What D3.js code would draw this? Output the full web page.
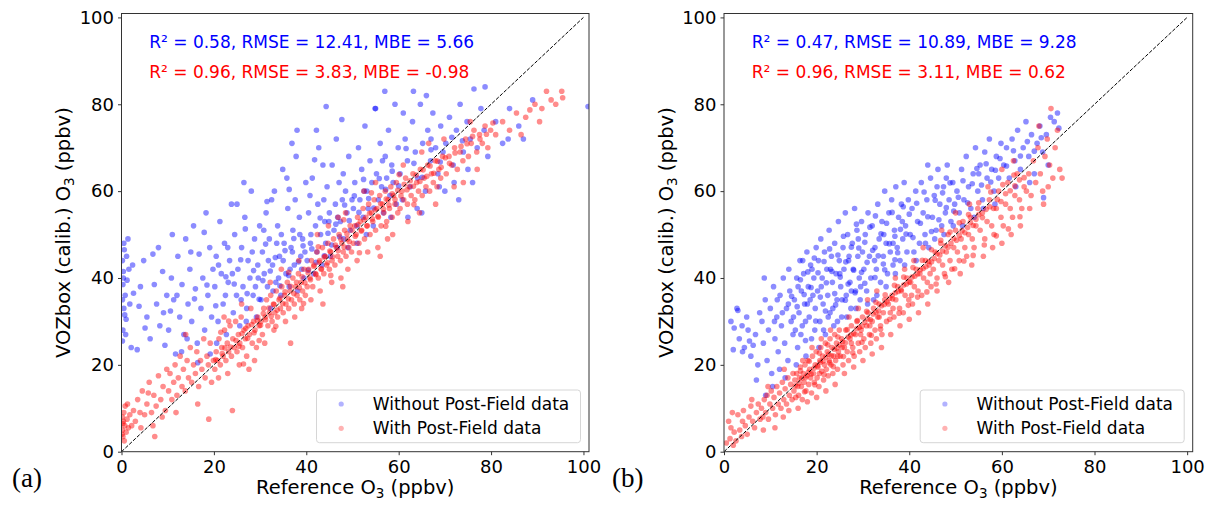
<!DOCTYPE html>
<html>
<head>
<meta charset="utf-8">
<script src="https://cdn.jsdelivr.net/npm/d3@7"></script>
<style>
  body { margin: 0; background: #fff; }
  text { font-family: "DejaVu Sans", sans-serif; }
</style>
</head>
<body>
<script>
// canvas and axes limits
var width = 1211;
var height = 512;
var xMax = 101.2;
var yMax = 100.9;

var tickValues = [0, 20, 40, 60, 80, 100];
var seriesNames = ["Without Post-Field data", "With Post-Field data"];
var seriesColors = ["#0000ff", "#ff0000"];
var statsA = ["R\u00b2 = 0.58, RMSE = 12.41, MBE = 5.66", "R\u00b2 = 0.96, RMSE = 3.83, MBE = -0.98"];
var statsB = ["R\u00b2 = 0.47, RMSE = 10.89, MBE = 9.28", "R\u00b2 = 0.96, RMSE = 3.11, MBE = 0.62"];
var panelLabels = ["(a)", "(b)"];

// (a) without post-field data: [reference, vozbox]
var blueA = [
[0.2,44],[0.4,41.5],[0.3,38.5],[0.8,36],[0.5,33],[1.0,30.5],[0.3,28],[0.6,46.5],[1.4,49],[1.2,39.5],[0.2,25.5],[1.8,34],[0.7,31.5],[2.4,43],[0.4,40],[1.1,45],[2.6,36.5],[0.9,27],[1.6,42],[0.2,35],[2.1,24],[0.5,48],
[3.4,23.5],[4.1,38],[4.8,44],[5.5,31],[6.2,26],[7.1,38.5],[7.6,34],[8.3,29],[8.9,41.5],[9.4,24.5],[9.8,36],[6.8,45.5],[5.1,28.5],[3.8,33.5],[8.0,47],[9.1,32],
[10.2,28],[10.8,40],[11.3,35],[11.7,22.5],[12.2,45],[12.6,31],[13.1,38.5],[13.5,27],[13.9,49],[14.4,34],[14.8,42],[15.2,30],[15.6,52],[16.0,37.5],[16.4,25],[16.8,45.5],[17.2,33],[17.6,40],[18.0,28],[18.3,55],[18.7,36],[19.1,47],[19.5,31],[19.8,42],[11.0,50],[15.0,46],[17.9,50.5],[13.0,23],[16.5,20.5],[19.2,22.5],[12.0,36],[14.2,26],
[20.2,38],[20.5,45],[20.9,30],[21.3,53],[21.6,41],[22.0,34],[22.3,48],[22.7,27],[23.1,39],[23.4,44],[23.8,57],[24.2,32],[24.5,50],[24.9,36],[25.2,42],[25.6,29],[26.0,47],[26.3,38],[26.7,54],[27.1,33],[27.4,44],[27.8,40],[28.1,60],[28.5,36],[28.8,49],[29.2,31],[29.5,43],[29.9,52],[20.6,25],[22.5,36],[24.0,41],[25.9,35],[27.0,30],[28.3,46],[29.0,38],[26.5,62],[23.0,47],[21.0,43],[25.0,57],[29.6,40],
[30.2,35],[30.5,46],[30.9,41],[31.3,55],[31.6,38],[32.0,49],[32.3,33],[32.7,43],[33.1,60],[33.4,39],[33.8,52],[34.2,45],[34.5,36],[34.9,65],[35.2,48],[35.6,41],[36.0,56],[36.3,38],[36.7,47],[37.1,51],[37.4,43],[37.8,68],[38.1,37],[38.5,54],[38.8,45],[39.2,49],[39.5,40],[39.9,62],[30.8,51],[32.5,58],[33.6,48],[35.0,44],[36.5,42],[37.6,58],[38.6,50],[39.0,42],[31.8,44],[34.0,40],[35.8,63],[36.9,71],[39.7,46],[32.8,37],[37.0,46],[34.6,50],[38.0,74],
[40.2,44],[40.5,55],[40.9,48],[41.3,63],[41.6,41],[42.0,52],[42.3,46],[42.7,70],[43.1,50],[43.4,43],[43.8,58],[44.2,48],[44.3,79.5],[44.5,61],[44.9,53],[45.2,45],[45.6,66],[46.0,51],[46.3,57],[46.7,47],[47.1,62],[47.4,53],[47.7,76.5],[48.1,49],[48.5,60],[48.8,55],[49.2,68],[49.5,51],[49.9,58],[40.8,59],[42.5,57],[43.6,66],[45.0,55],[46.5,72],[48.0,64],[41.0,50],[44.0,53],[46.8,54],[49.0,47],[42.2,74],[47.8,58],
[50.2,56],[50.5,62],[50.9,52],[51.3,70],[51.6,58],[52.0,65],[52.3,54],[52.7,75],[53.1,60],[53.4,56],[53.8,67],[54.2,62],[54.5,52],[54.9,79],[55.2,64],[55.6,58],[56.0,71],[56.3,61],[56.7,55],[57.1,68],[57.4,63],[57.8,74],[58.1,59],[58.5,66],[58.8,62],[59.2,80],[59.5,57],[59.9,70],[51.0,48],[53.0,50],[55.0,79],[57.0,83],[52.5,60],[56.5,67],[58.3,54],
[60.3,64],[60.8,58],[61.4,72],[61.9,67],[62.5,61],[63.0,76],[63.2,83],[63.6,69],[64.1,63],[64.7,80],[65.2,71],[65.8,60],[66.3,74],[66.9,67],[67.4,78],[68.0,70],[68.5,64],[69.1,75],[69.6,69],[62.0,54],[64.0,56],[66.0,82],[68.8,61],[61.0,78],[67.0,72],[65.0,55],
[70.2,71],[71.0,77],[71.8,66],[72.5,74],[73.3,80],[74.0,69],[74.8,76],[75.5,72],[76.3,83.5],[77.0,70],[77.8,79],[78.5,74],[78.7,84],[79.3,68],[72.0,62],[75.0,65],[76.0,62],[70.0,60],[73.0,58],
[81.0,76],[82.5,71],[83.7,72],[84.0,79],[86.0,75],[87.0,72],[89.0,81],[101,79.5],
[22.6,40.3],[24.4,38.6],[25.8,44.2],[27.2,36.4],[28.6,41.7],[29.8,35.1],[30.6,39.4],[31.2,47.8],[32.2,41.6],[33.3,44.7],[34.3,38.2],[35.4,46.3],[36.2,40.6],[37.3,49.1],[38.3,43.7],[39.3,47.4],[40.4,41.8],[41.2,46.7],[42.1,43.6],[43.0,53.8],[43.9,45.1],[44.7,50.3],[45.5,47.6],[46.4,52.4],[47.2,49.5],[48.3,56.8],[49.3,53.2],[50.4,58.9],[51.4,55.1],[52.4,62.7],[53.5,58.3],[54.6,56.1],[55.8,62.9],[57.2,60.4],[58.6,64.6],[60.0,61.2],[61.6,69.8],[63.3,66.4],[65.1,63.2],[67.0,69.5],[69.0,66.7],[71.5,72.4],[73.8,71.6],[26.8,51.3],[31.5,57.6],[36.3,60.4],[41.8,67.2],[18.5,38.4],[20.4,33.6],[15.8,35.2],[10.6,32.4]
];

// (a) with post-field data
var redA = [
[0.2,5],[0.4,7],[0.3,3.5],[0.7,6],[0.5,9],[1.0,4.5],[0.2,8],[1.2,7.5],[0.8,10.5],[1.5,5.5],[0.3,6.5],[1.8,8.5],[0.6,2.5],[2.2,6],[1.3,11],[0.1,4],[2.6,9.5],
[3.0,7],[3.5,12],[4.0,9],[4.5,14],[5.0,8.5],[5.5,11],[6.0,16],[6.5,9],[7.0,13],[7.5,10.5],[8.0,17.5],[8.5,12],[9.0,15],[9.5,9.5],[4.2,5.5],[6.8,6],[9.8,19],[5.8,13.5],[8.8,8],[7.2,3.5],
[10.2,14],[10.5,18],[10.9,12],[11.3,16],[11.6,20],[12.0,13],[12.3,17],[12.7,22],[13.1,15],[13.4,19],[13.8,14],[14.2,21],[14.5,17],[14.9,24],[15.2,16],[15.6,20],[16.0,18],[16.3,23],[16.7,15],[17.1,21],[17.4,19],[17.8,26],[18.1,17],[18.5,22],[18.8,20],[19.2,25],[19.5,16],[19.9,21],[16.5,11],[18.9,7.5],[13.9,27],[11.8,9],
[20.2,19],[20.5,23],[20.8,21],[21.1,26],[21.4,20],[21.7,24],[22.0,22],[22.3,28],[22.6,21],[22.9,25],[23.2,23],[23.5,29],[23.8,22],[24.1,26],[24.4,24],[24.7,30],[25.0,23],[25.3,27],[25.6,25],[25.9,31],[26.2,24],[26.5,28],[26.8,26],[27.1,22],[27.4,29],[27.7,27],[28.0,33],[28.3,25],[28.6,30],[28.9,28],[29.2,24],[29.5,31],[29.8,29],[21.0,17],[23.0,18],[25.5,20],[27.6,19],[22.2,31],[24.0,9.5],[26.0,34],[28.8,21],
[30.2,30],[30.5,27],[30.8,33],[31.1,31],[31.4,35],[31.7,29],[32.0,32],[32.3,36],[32.6,30],[32.9,34],[33.2,32],[33.5,37],[33.8,31],[34.1,35],[34.4,33],[34.7,38],[35.0,32],[35.3,36],[35.6,34],[35.9,39],[36.2,33],[36.5,37],[36.8,35],[37.1,40],[37.4,34],[37.7,38],[38.0,36],[38.3,41],[38.6,35],[38.9,39],[39.2,37],[39.5,42],[39.8,36],[31.0,25],[33.0,28],[35.5,30],[37.5,31],[39.0,33],[32.2,39],[34.6,42],[36.6,25],[38.4,44],
[40.2,38],[40.5,42],[40.8,40],[41.1,44],[41.4,38],[41.7,43],[42.0,41],[42.3,46],[42.6,40],[42.9,44],[43.2,42],[43.5,47],[43.8,41],[44.1,45],[44.4,43],[44.7,48],[45.0,42],[45.3,46],[45.6,44],[45.9,49],[46.2,43],[46.5,47],[46.8,45],[47.1,50],[47.4,44],[47.7,48],[48.0,46],[48.3,51],[48.6,45],[48.9,49],[49.2,47],[49.5,52],[49.8,46],[41.0,35],[43.0,37],[45.5,39],[47.5,40],[49.0,42],[42.4,50],[44.8,52],[46.9,54],[48.5,55],[43.6,34],[47.9,38],
[50.2,48],[50.5,52],[50.8,50],[51.1,54],[51.4,48],[51.7,53],[52.0,51],[52.3,56],[52.6,49],[52.9,54],[53.2,52],[53.5,57],[53.8,50],[54.1,55],[54.4,53],[54.7,58],[55.0,51],[55.3,56],[55.6,54],[55.9,59],[56.2,52],[56.5,57],[56.8,55],[57.1,60],[57.4,53],[57.7,58],[58.0,56],[58.3,61],[58.6,54],[58.9,59],[59.2,57],[59.5,62],[59.8,55],[51.0,44],[53.3,46],[55.5,47],[57.6,49],[52.5,60],[55.0,62],[56.0,45],[58.7,50],
[60.3,56],[60.7,60],[61.1,58],[61.5,63],[61.9,57],[62.3,61],[62.7,59],[63.1,64],[63.5,58],[63.9,62],[64.3,60],[64.7,65],[65.1,59],[65.5,63],[65.9,61],[66.3,66],[66.7,60],[67.1,64],[67.5,62],[67.9,67],[68.3,61],[68.7,65],[69.1,63],[69.5,68],[62.0,53],[64.5,55],[66.5,71],[68.0,57],[61.0,66],[65.0,69],[69.8,72],
[70.3,64],[70.9,68],[71.5,66],[72.1,70],[72.7,65],[73.3,69],[73.9,67],[74.5,72],[75.1,68],[75.7,71],[76.3,74],[76.9,69],[77.5,73],[78.1,71],[78.7,75],[79.3,70],[79.9,74],[72.0,61],[75.5,76],[77.0,65],[74.0,62],[80.4,75.7],
[81,73],[82.5,76],[84,74],[85.5,78],[86.5,73],[87.5,77],[88.4,78.7],[89.5,80],[90.5,76],[92,83],[93,81],[94,80],[95.3,83],[95.5,81.5],[91,79],
[20.4,21.2],[21.8,22.6],[22.4,23.9],[23.6,24.1],[24.8,25.6],[25.4,24.3],[26.1,27.2],[26.9,28.4],[27.3,26.1],[28.2,29.3],[28.7,27.4],[29.4,30.2],[30.1,29.1],[30.7,31.8],[31.2,30.4],[31.9,33.1],[32.4,31.2],[33.0,33.9],[33.7,32.6],[34.3,35.4],[34.9,34.1],[35.4,36.8],[36.1,35.2],[36.6,38.1],[37.3,36.4],[37.9,39.0],[38.5,37.8],[39.1,40.3],[39.7,38.9],[40.4,41.2],[40.9,39.6],[41.6,42.7],[42.1,40.8],[42.8,43.6],[43.3,42.1],[43.9,44.8],[44.6,43.5],[45.1,46.2],[45.7,44.9],[46.3,47.6],[46.9,46.3],[47.5,48.9],[48.2,47.1],[48.8,50.2],[49.3,48.4],[49.9,51.0],[50.6,49.6],[51.2,52.3],[51.9,50.8],[52.5,53.4],[53.1,52.0],[53.7,54.9],[54.3,53.6],[54.9,55.7],[55.5,54.2],[56.1,57.1],[56.7,55.9],[57.3,58.2],[57.9,56.8],[58.6,59.4],[59.2,58.1],[59.8,60.2],[60.5,58.9],[61.2,61.6],[61.8,60.3],[62.5,62.4],[63.2,61.1],[63.8,63.7],[64.6,62.2],[65.3,64.9],[66.1,63.4],[66.8,65.8],[67.6,64.1],[68.4,66.9],[69.2,65.5],[70.1,67.7],[71.0,66.4],[72.2,68.8],[73.5,70.3],[74.8,70.9],[76.0,72.6],[77.6,72.0],[79.0,73.1],
[21.5,27.5],[23.2,30.1],[26.4,20.2],[29.8,25.6],[33.4,28.9],[36.2,41.3],[39.4,34.1],[42.6,47.2],[45.3,40.6],[48.1,53.4],[51.5,45.8],[54.1,59.6],[57.2,51.9],[60.1,63.8],[63.3,56.9]
];

// (b) without post-field data
var blueB = [
[1.5,30],[2.2,28.5],[2.8,33],[3.3,26],[3.9,29],[4.4,24],[4.9,31],[5.2,28],[5.8,22],[6.3,24.5],[6.8,27],[7.3,20],[7.7,32],[2.0,23.5],[4.0,23],[3.0,32.5],[5.5,25.5],[7.0,16.5],
[8.2,30],[8.5,25],[8.9,35],[9.3,21],[9.6,28],[10.0,33],[10.3,18],[10.7,38],[11.0,26],[11.4,31],[11.7,23],[12.1,36],[12.4,29],[12.8,40],[13.1,25],[13.5,33],[13.8,21],[14.2,37],[14.5,30],[14.9,27],[9.0,13],[10.5,15],[12.0,19],[13.2,17],[14.0,42],[11.5,35],[8.7,40],[13.9,34],[10.9,30],[12.6,32],
[15.2,35],[15.4,28],[15.7,40],[15.9,24],[16.2,32],[16.4,44],[16.7,37],[16.9,29],[17.2,41],[17.4,34],[17.7,22],[17.9,46],[18.2,38],[18.4,31],[18.7,43],[18.9,26],[19.2,36],[19.4,40],[19.7,33],[19.9,47],[15.6,20],[16.6,27],[17.6,30],[18.6,35],[19.6,28],[16.0,38],[17.0,44],[18.0,34],[19.0,42],[15.0,31],
[20.2,37],[20.4,44],[20.7,30],[20.9,49],[21.2,40],[21.4,34],[21.7,46],[21.9,27],[22.2,42],[22.4,36],[22.7,51],[22.9,32],[23.2,45],[23.4,39],[23.7,29],[23.9,48],[24.2,41],[24.4,35],[24.7,53],[24.9,44],[25.2,38],[25.4,31],[25.7,47],[25.9,42],[26.2,55],[26.4,36],[26.7,50],[26.9,44],[27.2,39],[27.4,33],[27.7,48],[27.9,42],[28.2,56],[28.4,37],[28.7,51],[28.9,45],[29.2,40],[29.4,35],[29.7,53],[29.9,46],[20.5,24],[21.5,28],[22.5,31],[23.5,33],[24.5,30],[25.5,35],[26.5,31],[27.5,37],[28.5,33],[29.5,38],[21.0,38],[23.0,42],[25.0,41],[27.0,45],[29.0,49],
[30.2,42],[30.5,50],[30.8,37],[31.1,55],[31.4,45],[31.7,40],[32.0,52],[32.3,35],[32.6,47],[32.9,42],[33.2,57],[33.5,49],[33.8,39],[34.1,53],[34.4,45],[34.7,60],[35.0,48],[35.3,41],[35.6,55],[35.9,46],[36.2,58],[36.5,43],[36.8,51],[37.1,61],[37.4,47],[37.7,54],[38.0,44],[38.3,57],[38.6,49],[38.9,62],[39.2,52],[39.5,46],[39.8,58],[31.0,34],[33.0,36],[35.0,38],[37.0,41],[39.0,43],[32.5,44],[34.5,50],[36.5,48],[38.5,53],
[40.2,50],[40.6,56],[41.0,46],[41.4,60],[41.8,53],[42.2,48],[42.6,62],[43.0,55],[43.4,50],[43.8,58],[44.2,47],[44.6,63],[45.0,54],[45.4,59],[45.8,51],[46.2,65],[46.6,57],[47.0,52],[47.4,61],[47.8,55],[48.2,66],[48.6,58],[49.0,53],[49.4,62],[49.8,57],[41.5,44],[43.5,48],[45.5,49],[47.5,50],[49.5,52],[44.0,66],[46.0,61],[48.0,63],
[50.3,60],[50.8,55],[51.3,65],[51.8,58],[52.3,68],[52.8,61],[53.3,56],[53.8,64],[54.3,70],[54.8,60],[55.3,66],[55.8,58],[56.3,69],[56.8,63],[57.3,72],[57.8,65],[58.3,60],[58.8,68],[59.3,63],[59.8,71],[51.5,52],[54.0,54],[56.0,56],[58.5,57],[55.0,64],
[60.4,66],[61.0,70],[61.6,63],[62.2,72],[62.8,67],[63.4,74],[64.0,65],[64.6,70],[65.2,76],[65.8,68],[66.4,73],[67.0,64],[67.6,71],[68.2,75],[68.8,69],[69.6,73],[70.5,77],[71.3,76],[72.0,78],[72.3,74.5],[66.0,62],[70.0,66],[63.0,61],[69.0,58.5],
[14.6,35.8],[15.8,33.4],[16.5,39.6],[17.3,36.2],[18.1,41.4],[18.8,37.8],[19.5,44.6],[20.3,41.2],[20.8,35.6],[21.6,43.8],[22.1,38.9],[22.8,46.7],[23.3,41.5],[23.9,36.4],[24.6,45.3],[25.1,40.2],[25.8,49.6],[26.3,43.7],[26.8,38.6],[27.5,47.1],[28.0,41.8],[28.6,52.4],[29.1,46.9],[29.7,41.3],[30.4,48.2],[30.9,43.6],[31.5,51.7],[32.1,46.4],[32.7,54.3],[33.3,45.1],[33.9,50.2],[34.4,43.2],[35.1,52.6],[35.7,47.9],[36.3,55.1],[36.9,49.6],[37.5,45.8],[38.1,51.2],[38.7,56.4],[39.3,50.1],[40.0,54.7],[40.8,49.3],[41.6,57.2],[42.4,52.6],[43.2,59.8],[44.0,54.1],[44.8,50.7],[45.6,57.9],[46.4,53.4],[47.2,59.6],[48.0,56.2],[48.8,61.9],[49.6,55.4],[50.6,58.6],[51.6,62.4],[52.6,57.3],[53.6,61.7],[54.6,65.2],[55.6,61.4],[56.6,66.3],[57.6,62.1],[58.6,64.8],[59.6,67.5],[61.0,65.8],[62.5,69.3],[64.0,68.1],[65.5,71.4],[67.0,69.2],[68.5,72.3],[17.6,25.6],[19.8,30.1],[21.9,32.4],[24.1,33.8],[26.2,34.9],[28.3,36.6],[30.4,38.8],[32.6,40.1],[34.7,41.9],[36.9,44.2]
];

// (b) with post-field data
var redB = [
[0.5,2],[1.0,7],[1.3,3],[1.8,9],[2.2,4.5],[2.6,2.5],[3.0,8.5],[3.4,5],[3.8,3.5],[4.2,9.5],[4.6,6],[5.0,4],[5.4,8],[5.8,10.5],[6.2,7],[6.6,5.5],[7.0,9],[7.4,11],[7.8,7.5],[1.5,5.5],[4.0,7],[6.0,12],[2.0,1.5],
[8.1,10],[8.4,8],[8.7,12],[9.0,9],[9.3,13],[9.6,7.5],[9.9,11],[10.2,14],[10.5,10],[10.8,12.5],[11.1,8.5],[11.4,15],[11.7,11],[12.0,13.5],[12.3,10],[12.6,16],[12.9,12],[13.2,14.5],[13.5,11],[13.8,17],[14.1,13],[14.4,15.5],[14.7,12],[14.9,18],[9.5,15],[11.0,5.5],[12.8,8],[14.0,9.5],[8.5,5],[13.0,19],
[15.1,14],[15.3,16.5],[15.5,12.5],[15.7,18],[15.9,15],[16.1,13],[16.3,17],[16.5,19.5],[16.7,15],[16.9,12],[17.1,18],[17.3,16],[17.5,20],[17.7,14],[17.9,17.5],[18.1,21],[18.3,15.5],[18.5,19],[18.7,17],[18.9,13.5],[19.1,22],[19.3,18],[19.5,16],[19.7,20],[19.9,23],[20.1,17],[20.3,19.5],[20.5,15],[20.7,21],[20.9,24],[21.1,18.5],[21.3,22],[21.5,16.5],[21.7,20],[21.9,25],[22.1,19],[22.3,23],[22.5,17.5],[22.7,21],[22.9,26],[23.1,20],[23.3,24],[23.5,18],[23.7,22],[23.9,27],[24.1,21],[24.3,25],[24.5,19],[24.7,23],[24.9,28],[16.0,10],[18.0,11.5],[20.0,12.5],[22.0,14],[24.0,15.5],[17.0,21],[19.0,24],[21.0,26],[23.0,28],[20.6,18],[22.8,20.5],[24.6,22],
[25.1,22],[25.4,26],[25.7,20],[26.0,24],[26.3,28],[26.6,23],[26.9,21],[27.2,26],[27.5,29],[27.8,24],[28.1,22],[28.4,27],[28.7,30],[29.0,25],[29.3,23],[29.6,28],[29.9,31],[30.2,26],[30.5,24],[30.8,29],[31.1,32],[31.4,27],[31.7,25],[32.0,30],[32.3,33],[32.6,28],[32.9,26],[33.2,31],[33.5,34],[33.8,29],[34.1,27],[34.4,32],[34.7,35],[26.0,18],[28.0,19.5],[30.0,21],[32.0,22.5],[34.0,24],[27.0,31],[29.0,33],[31.0,35],[33.0,37],[25.5,24],[27.5,25],[29.5,27],[31.5,29],[33.5,31],
[35.1,30],[35.5,34],[35.9,32],[36.3,36],[36.7,31],[37.1,35],[37.5,38],[37.9,33],[38.3,37],[38.7,32],[39.1,36],[39.5,40],[39.9,35],[40.3,39],[40.7,34],[41.1,38],[41.5,42],[41.9,37],[42.3,41],[42.7,36],[43.1,40],[43.5,44],[43.9,39],[44.3,43],[44.7,38],[36.0,27],[38.0,29],[40.0,30.5],[42.0,32],[44.0,34],[37.0,40],[39.0,42],[41.0,44],[43.0,47],[36.5,33],[40.5,36],[44.5,41],
[45.2,42],[45.6,46],[46.0,40],[46.4,44],[46.8,48],[47.2,43],[47.6,41],[48.0,46],[48.4,50],[48.8,44],[49.2,42],[49.6,47],[50.0,51],[50.4,46],[50.8,44],[51.2,49],[51.6,53],[52.0,47],[52.4,45],[52.8,50],[53.2,54],[53.6,49],[54.0,47],[54.4,52],[54.8,56],[46.0,37],[48.5,39],[51.0,41],[53.5,43],[47.0,51],[50.0,55],[53.0,57],
[55.3,51],[55.8,55],[56.3,49],[56.8,53],[57.3,58],[57.8,52],[58.3,50],[58.8,56],[59.3,60],[59.8,54],[60.3,52],[60.8,57],[61.3,62],[61.8,56],[62.3,54],[62.8,59],[63.3,64],[63.8,58],[64.3,56],[64.8,61],[56.0,45],[58.0,47],[60.0,48],[62.0,50],[64.0,52],[57.0,61],[60.0,65],[62.5,67],
[65.3,60],[65.8,64],[66.3,59],[66.8,67],[67.3,62],[67.8,70],[68.3,64],[68.8,60],[69.3,68],[69.8,72],[70.3,66],[70.6,79],[71.0,63],[71.5,70],[72.0,74],[72.5,65],[73.0,63],[66.0,56],[69.0,57],[68.0,75],[70.0,61],
[15.4,15.2],[16.2,15.8],[16.8,16.9],[17.6,17.1],[18.2,18.3],[18.8,17.9],[19.4,19.2],[20.2,19.8],[20.8,20.6],[21.4,20.9],[22.0,21.8],[22.6,22.4],[23.2,22.1],[23.8,23.6],[24.4,23.9],[25.0,24.6],[25.6,25.3],[26.2,25.1],[26.8,26.4],[27.4,26.9],[28.0,27.2],[28.6,28.3],[29.2,28.6],[29.8,28.9],[30.4,29.8],[31.0,30.6],[31.6,30.4],[32.2,31.7],[32.8,32.1],[33.4,32.4],[34.0,33.6],[34.6,33.9],[35.2,34.5],[35.8,35.3],[36.4,35.2],[37.0,36.6],[37.6,36.9],[38.2,37.3],[38.8,38.4],[39.4,38.6],[40.0,39.1],[40.6,40.2],[41.2,40.4],[41.8,40.9],[42.4,41.9],[43.0,42.2],[43.6,42.6],[44.2,43.8],[44.8,43.7],[45.4,44.5],[46.0,45.6],[46.6,45.3],[47.2,46.2],[47.8,47.4],[48.4,47.1],[49.0,48.0],[49.6,49.1],[50.2,48.7],[50.8,49.8],[51.4,50.9],[52.0,50.4],[52.6,51.6],[53.2,52.8],[53.8,52.1],[54.4,53.5],[55.0,54.6],[55.8,53.9],[56.6,55.8],[57.4,56.4],[58.2,56.0],[59.0,58.1],[59.8,57.6],[60.8,59.4],[61.8,60.1],[62.8,61.2],[63.8,62.6],[64.8,63.1],
[16.5,18.6],[17.4,13.8],[18.4,20.8],[19.6,15.4],[20.6,22.7],[21.6,17.8],[22.4,24.6],[23.6,19.6],[24.6,26.4],[25.8,21.9],[26.6,28.1],[27.8,22.8],[28.8,30.2],[29.8,25.2],[30.8,32.3],[31.8,26.8],[32.8,34.4],[33.8,28.2],[34.8,36.1],[35.8,30.5],[36.8,38.3],[37.8,31.9],[38.8,40.2],[39.8,33.7],[40.8,42.4],[41.8,35.6],[42.8,44.1],[43.8,36.8],[44.8,46.5],[45.8,38.6],[46.8,48.7],[47.8,40.3],[48.8,50.6],[49.8,42.1],[50.8,52.7],[51.8,43.9],[52.8,54.6],[53.8,45.2],[55.0,57.3],[56.2,47.6],[57.6,59.8],[58.8,49.7],[60.2,61.5],[61.4,51.3],[62.6,63.7],[63.9,54.1]
];

// layout of the two panels
var plotTop = 13.5;
var plotBottom = 451.7;
var panels = [
  {left: 121.5, right: 589, blue: blueA, red: redA, stats: statsA, labelX: 12},
  {left: 724, right: 1192.7, blue: blueB, red: redB, stats: statsB, labelX: 612}
];

var svg = d3.select("body")
    .append("svg")
    .attr("width", width)
    .attr("height", height);

panels.forEach(function(p, i) {
  var x = d3.scaleLinear().domain([0, xMax]).range([p.left, p.right]);
  var y = d3.scaleLinear().domain([0, yMax]).range([plotBottom, plotTop]);

  var g = svg.append("g");

  svg.append("clipPath")
      .attr("id", "clip" + i)
    .append("rect")
      .attr("x", p.left)
      .attr("y", plotTop)
      .attr("width", p.right - p.left)
      .attr("height", plotBottom - plotTop);

  var plot = g.append("g").attr("clip-path", "url(#clip" + i + ")");

  // scatter points, blue first then red on top
  [p.blue, p.red].forEach(function(series, k) {
    plot.append("g")
      .selectAll("circle")
      .data(series)
      .enter().append("circle")
        .attr("cx", function(d) { return x(d[0]); })
        .attr("cy", function(d) { return y(d[1]); })
        .attr("r", 2.8)
        .attr("fill", seriesColors[k])
        .attr("fill-opacity", 0.45);
  });

  // 1:1 line
  plot.append("line")
      .attr("x1", x(0)).attr("y1", y(0))
      .attr("x2", x(100)).attr("y2", y(100))
      .attr("stroke", "#000")
      .attr("stroke-width", 1)
      .attr("stroke-dasharray", "3.7,1.6");

  // frame
  g.append("rect")
      .attr("x", p.left)
      .attr("y", plotTop)
      .attr("width", p.right - p.left)
      .attr("height", plotBottom - plotTop)
      .attr("fill", "none")
      .attr("stroke", "#333")
      .attr("stroke-width", 1);

  // axes
  var xAxis = d3.axisBottom(x).tickValues(tickValues).tickSize(3.5).tickPadding(5.5);
  var yAxis = d3.axisLeft(y).tickValues(tickValues).tickSize(3.5).tickPadding(4);

  g.append("g")
      .attr("transform", "translate(0," + plotBottom + ")")
      .call(xAxis)
      .attr("font-size", 18)
      .attr("font-family", "DejaVu Sans")
      .call(function(a) { a.select(".domain").remove(); });

  g.append("g")
      .attr("transform", "translate(" + p.left + ",0)")
      .call(yAxis)
      .attr("font-size", 18)
      .attr("font-family", "DejaVu Sans")
      .call(function(a) { a.select(".domain").remove(); });

  g.selectAll(".tick line").attr("stroke", "#333");
  g.selectAll(".tick text").attr("fill", "#000");

  // axis labels
  var xl = g.append("text")
      .attr("x", (p.left + p.right) / 2)
      .attr("y", 494)
      .attr("text-anchor", "middle")
      .attr("font-size", 19.5);
  xl.append("tspan").text("Reference O");
  xl.append("tspan").attr("font-size", 13.5).attr("dy", 4).text("3");
  xl.append("tspan").attr("dy", -4).text(" (ppbv)");

  var yl = g.append("text")
      .attr("transform", "translate(" + (p.left - 51.5) + "," + ((plotTop + plotBottom) / 2) + ") rotate(-90)")
      .attr("text-anchor", "middle")
      .attr("font-size", 19.5);
  yl.append("tspan").text("VOZbox (calib.) O");
  yl.append("tspan").attr("font-size", 13.5).attr("dy", 4).text("3");
  yl.append("tspan").attr("dy", -4).text(" (ppbv)");

  // statistics
  p.stats.forEach(function(s, k) {
    g.append("text")
        .attr("x", x(6))
        .attr("y", y(k == 0 ? 93 : 86))
        .attr("font-size", 17)
        .attr("fill", seriesColors[k])
        .text(s);
  });

  // legend
  var lx = p.right - 8.5 - 264;
  var lg = g.append("g");
  lg.append("rect")
      .attr("x", lx).attr("y", 390)
      .attr("width", 264).attr("height", 52.7)
      .attr("rx", 3)
      .attr("fill", "#fff").attr("fill-opacity", 0.8)
      .attr("stroke", "#d6d6d6");
  seriesNames.forEach(function(name, k) {
    lg.append("circle")
        .attr("cx", lx + 24.7)
        .attr("cy", 404 + k * 24.3)
        .attr("r", 2.6)
        .attr("fill", seriesColors[k])
        .attr("fill-opacity", 0.3);
    lg.append("text")
        .attr("x", lx + 56.3)
        .attr("y", 410 + k * 24.3)
        .attr("font-size", 17)
        .text(name);
  });

  // panel letter
  svg.append("text")
      .attr("x", p.labelX)
      .attr("y", 487)
      .style("font-family", "'Liberation Serif', 'Times New Roman', serif")
      .attr("font-size", 27)
      .text(panelLabels[i]);
});
</script>
</body>
</html>
